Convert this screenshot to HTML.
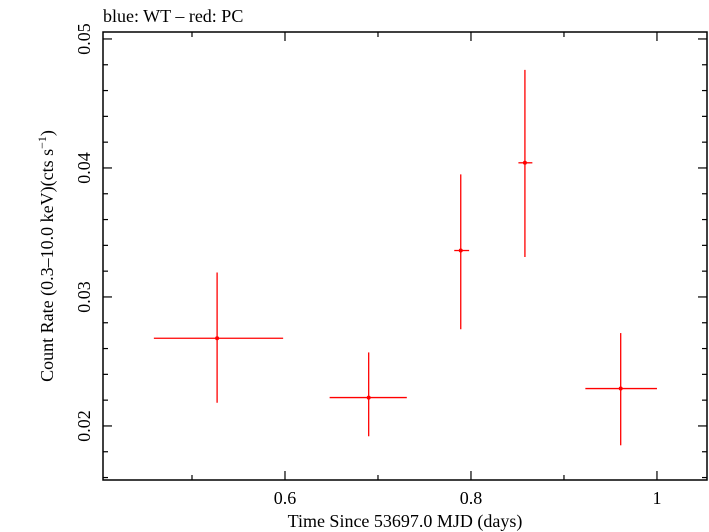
<!DOCTYPE html>
<html><head><meta charset="utf-8"><style>body{margin:0;background:#fff}svg{display:block}text{font-family:"Liberation Serif",serif;fill:#000}</style></head>
<body>
<svg id="chart" width="709" height="532" viewBox="0 0 709 532" xmlns="http://www.w3.org/2000/svg">
<text x="103" y="22" font-size="18">blue: WT – red: PC</text>
<rect x="103" y="32" width="604" height="448" fill="none" stroke="#000" stroke-width="1.5"/>
<g id="ticks"></g>
<g id="marks"></g>
<text x="405" y="527" font-size="18" text-anchor="middle">Time Since 53697.0 MJD (days)</text>
<text transform="translate(53,256) rotate(-90)" font-size="18" text-anchor="middle">Count Rate (0.3–10.0 keV)(cts s<tspan font-size="12" dy="-7">−1</tspan><tspan dy="7">)</tspan></text>
</svg>
<script>
const xTicks=[0.6,0.8,1.0];
const xTickLabels=["0.6","0.8","1"];
const yTicks=[0.02,0.03,0.04,0.05];
const yTickLabels=["0.02","0.03","0.04","0.05"];
const times=[0.527,0.690,0.789,0.858,0.961];
const timeLo=[0.459,0.648,0.782,0.851,0.923];
const timeHi=[0.598,0.731,0.798,0.866,1.0];
const rates=[0.0268,0.0222,0.0336,0.0404,0.0229];
const rateLo=[0.0218,0.0192,0.0275,0.0331,0.0185];
const rateHi=[0.0319,0.0257,0.0395,0.0476,0.0272];
const X0=103,X1=707,Y0=32,Y1=480;
const xmin=0.4043,xmax=1.0538,ymin=0.01581,ymax=0.05054;
const xs=v=>X0+(v-xmin)/(xmax-xmin)*(X1-X0);
const ys=v=>Y1-(v-ymin)/(ymax-ymin)*(Y1-Y0);
const NS="http://www.w3.org/2000/svg";
function mk(tag,attrs,parent){const e=document.createElementNS(NS,tag);for(const k in attrs)e.setAttribute(k,attrs[k]);parent.appendChild(e);return e;}
const tg=document.getElementById('ticks');
for(let v=0.5;v<=1.0001;v+=0.1){const x=xs(v);const major=Math.abs(v*10-Math.round(v*5)*2)<0.01;const L=major?9:5;
 const t=mk('line',{x1:x,x2:x,y1:Y1,y2:Y1-L,stroke:'#000','stroke-width':1.2},tg);
 
 
 const t2=mk('line',{x1:x,x2:x,y1:Y0,y2:Y0+L,stroke:'#000','stroke-width':1.2},tg);
 
 }
for(let v=0.016;v<=0.0505;v+=0.002){const y=ys(v);const major=Math.abs(v*100-Math.round(v*100))<0.01;const L=major?9:5;
 const t=mk('line',{x1:X0,x2:X0+L,y1:y,y2:y,stroke:'#000','stroke-width':1.2},tg);
 
 
 const t2=mk('line',{x1:X1,x2:X1-L,y1:y,y2:y,stroke:'#000','stroke-width':1.2},tg);
 
 }
xTicks.forEach((v,i)=>{const t=mk('text',{x:xs(v),y:504,'font-size':18,'text-anchor':'middle'},tg);t.textContent=xTickLabels[i];
 
 });
yTicks.forEach((v,i)=>{const t=mk('text',{transform:`translate(90,${ys(v)}) rotate(-90)`,'font-size':18,'text-anchor':'middle'},tg);t.textContent=yTickLabels[i];
 
 });
const mg=document.getElementById('marks');
times.forEach((t,i)=>{const g=mk('g',{},mg);
 
 
 mk('line',{x1:xs(timeLo[i]),x2:xs(timeHi[i]),y1:ys(rates[i]),y2:ys(rates[i]),stroke:'#f00','stroke-width':1.3},g);
 mk('line',{x1:xs(t),x2:xs(t),y1:ys(rateLo[i]),y2:ys(rateHi[i]),stroke:'#f00','stroke-width':1.3},g);
 mk('circle',{cx:xs(t),cy:ys(rates[i]),r:2,fill:'#f00'},g);});
</script>
</body></html>
